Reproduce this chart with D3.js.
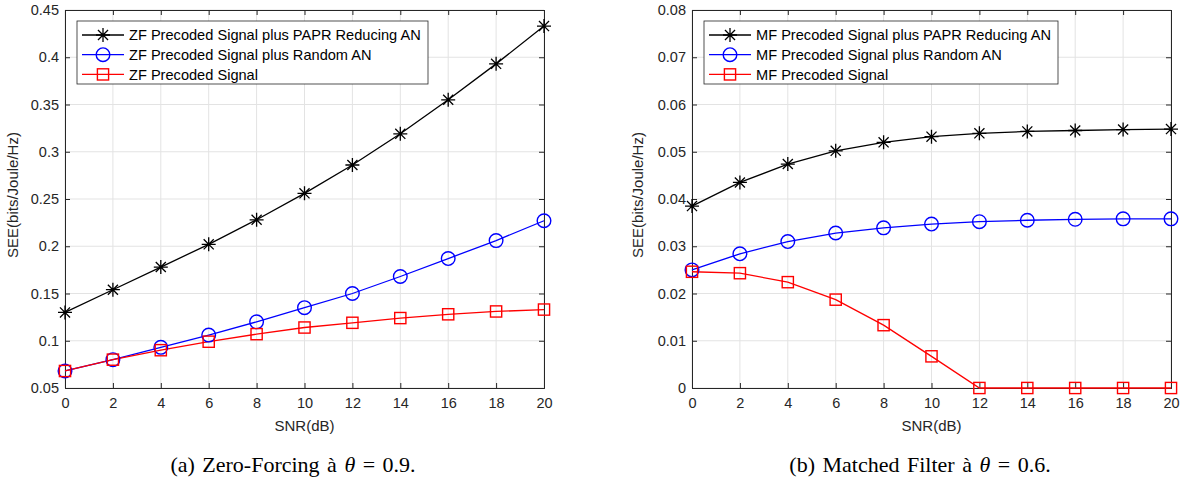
<!DOCTYPE html>
<html><head><meta charset="utf-8">
<script src="https://cdn.jsdelivr.net/npm/d3@7"></script>
<style>body{margin:0;background:#fff}svg{display:block}</style>
</head><body>
<svg id="c" width="1181" height="482"></svg>
<script>
const snr = [0,2,4,6,8,10,12,14,16,18,20];
const xTicks = [0,2,4,6,8,10,12,14,16,18,20];

const zfPapr   = [0.130,0.154,0.178,0.202,0.228,0.256,0.286,0.319,0.355,0.393,0.433];
const zfRandom = [0.068,0.080,0.093,0.106,0.120,0.135,0.150,0.168,0.187,0.206,0.227];
const zfSignal = [0.068,0.080,0.090,0.099,0.107,0.114,0.119,0.124,0.128,0.131,0.133];
const zfYTicks = [0.05,0.1,0.15,0.2,0.25,0.3,0.35,0.4,0.45];
const zfYTickLabels = ["0.05","0.1","0.15","0.2","0.25","0.3","0.35","0.4","0.45"];
const zfLegend = ["ZF Precoded Signal plus PAPR Reducing AN","ZF Precoded Signal plus Random AN","ZF Precoded Signal"];

const mfPapr   = [0.0385,0.0435,0.0474,0.0502,0.0520,0.0532,0.0539,0.0543,0.0545,0.0547,0.0548];
const mfRandom = [0.0250,0.0284,0.0310,0.0328,0.0339,0.0347,0.0352,0.0355,0.0357,0.0358,0.0358];
const mfSignal = [0.0246,0.0243,0.0224,0.0187,0.0133,0.0067,0,0,0,0,0];
const mfYTicks = [0,0.01,0.02,0.03,0.04,0.05,0.06,0.07,0.08];
const mfYTickLabels = ["0","0.01","0.02","0.03","0.04","0.05","0.06","0.07","0.08"];
const mfLegend = ["MF Precoded Signal plus PAPR Reducing AN","MF Precoded Signal plus Random AN","MF Precoded Signal"];

const colors = ["#000000","#0000ff","#ff0000"];
const markers = ["star","circle","square"];
const font = "'Liberation Sans', Arial, Helvetica, sans-serif";
const serif = "'Liberation Serif', 'Times New Roman', serif";
const axisColor = "#262626";

const svg = d3.select("#c");

function drawMarker(g, type, x, y, color){
  if(type==="star"){
    const r=7, d=r*0.72;
    g.append("path").attr("d",
      `M${x-r},${y}L${x+r},${y}M${x},${y-r}L${x},${y+r}M${x-d},${y-d}L${x+d},${y+d}M${x-d},${y+d}L${x+d},${y-d}`)
      .attr("stroke",color).attr("stroke-width",1.3).attr("fill","none");
  } else if(type==="circle"){
    g.append("circle").attr("cx",x).attr("cy",y).attr("r",6.8)
      .attr("stroke",color).attr("stroke-width",1.4).attr("fill","none");
  } else {
    g.append("rect").attr("x",x-5.6).attr("y",y-5.6).attr("width",11.2).attr("height",11.2)
      .attr("stroke",color).attr("stroke-width",1.4).attr("fill","none");
  }
}

function panel(opt){
  const {left,right,top,bottom,yDomain,yTicks,yLabels,series,legend,legendBox,caption,captionVal,captionX,yLabelX} = opt;
  const x = d3.scaleLinear().domain([0,20]).range([left,right]);
  const y = d3.scaleLinear().domain(yDomain).range([bottom,top]);
  const g = svg.append("g");

  // grid
  g.append("g").selectAll("line").data(xTicks).join("line")
    .attr("x1",d=>x(d)).attr("x2",d=>x(d)).attr("y1",top).attr("y2",bottom)
    .attr("stroke","#e3e3e3").attr("stroke-width",1);
  g.append("g").selectAll("line").data(yTicks).join("line")
    .attr("y1",d=>y(d)).attr("y2",d=>y(d)).attr("x1",left).attr("x2",right)
    .attr("stroke","#e3e3e3").attr("stroke-width",1);

  // axes (ticks inside, box on)
  const gx = g.append("g").attr("transform",`translate(0,${bottom})`)
    .call(d3.axisBottom(x).tickValues(xTicks).tickSize(-5).tickPadding(10).tickFormat(d3.format("d")));
  const gxt = g.append("g").attr("transform",`translate(0,${top})`)
    .call(d3.axisTop(x).tickValues(xTicks).tickSize(-5).tickFormat(""));
  const gy = g.append("g").attr("transform",`translate(${left},0)`)
    .call(d3.axisLeft(y).tickValues(yTicks).tickSize(-5).tickPadding(6).tickFormat((d,i)=>yLabels[i]));
  const gyr = g.append("g").attr("transform",`translate(${right},0)`)
    .call(d3.axisRight(y).tickValues(yTicks).tickSize(-5).tickFormat(""));
  [gx,gxt,gy,gyr].forEach(a=>{
    a.select(".domain").attr("stroke",axisColor).attr("stroke-width",1);
    a.selectAll(".tick line").attr("stroke",axisColor);
    a.selectAll("text").attr("fill",axisColor).style("font-family",font).style("font-size","14.5px");
  });
  gx.selectAll("text").attr("dy","0.71em");

  // axis labels
  g.append("text").attr("x",(left+right)/2).attr("y",bottom+43).attr("text-anchor","middle")
    .style("font-family",font).style("font-size","15px").attr("fill",axisColor).text("SNR(dB)");
  g.append("text").attr("transform",`translate(${yLabelX},${(top+bottom)/2 - 4}) rotate(-90)`)
    .attr("text-anchor","middle").style("font-family",font).style("font-size","15px")
    .attr("fill",axisColor).text("SEE(bits/Joule/Hz)");

  // series
  const line = d3.line().x((d,i)=>x(snr[i])).y(d=>y(d));
  series.forEach((s,k)=>{
    g.append("path").datum(s).attr("d",line).attr("fill","none")
      .attr("stroke",colors[k]).attr("stroke-width",1.3);
  });
  series.forEach((s,k)=>{
    s.forEach((v,i)=>drawMarker(g,markers[k],x(snr[i]),y(v),colors[k]));
  });

  // legend
  const lb = legendBox;
  g.append("rect").attr("x",lb.x).attr("y",lb.y).attr("width",lb.w).attr("height",lb.h)
    .attr("fill","#fff").attr("stroke",axisColor).attr("stroke-width",0.8);
  legend.forEach((t,k)=>{
    const yy = lb.y + 14 + k*19.7;
    g.append("line").attr("x1",lb.x+5).attr("x2",lb.x+47).attr("y1",yy).attr("y2",yy)
      .attr("stroke",colors[k]).attr("stroke-width",1.3);
    drawMarker(g,markers[k],lb.x+26,yy,colors[k]);
    g.append("text").attr("x",lb.x+52).attr("y",yy).attr("dy","0.36em")
      .style("font-family",font).style("font-size","14.6px").attr("fill","#000").text(t);
  });

  // caption
  const cap = g.append("text").attr("x",captionX).attr("y",472).attr("text-anchor","middle")
    .style("font-family",serif).style("font-size","22px").style("word-spacing","2px").attr("fill","#000");
  cap.append("tspan").text(caption + " ");
  cap.append("tspan").style("font-style","italic").text("θ");
  cap.append("tspan").text(" = " + captionVal + ".");
}

panel({left:65,right:544,top:10,bottom:388,yDomain:[0.05,0.45],yTicks:zfYTicks,yLabels:zfYTickLabels,
  series:[zfPapr,zfRandom,zfSignal],legend:zfLegend,legendBox:{x:77,y:21,w:351,h:63},
  caption:"(a) Zero-Forcing à",captionVal:"0.9",captionX:293,yLabelX:18});
panel({left:692,right:1171,top:10,bottom:388,yDomain:[0,0.08],yTicks:mfYTicks,yLabels:mfYTickLabels,
  series:[mfPapr,mfRandom,mfSignal],legend:mfLegend,legendBox:{x:704,y:21,w:354,h:63},
  caption:"(b) Matched Filter à",captionVal:"0.6",captionX:920,yLabelX:643});
</script>
</body></html>
